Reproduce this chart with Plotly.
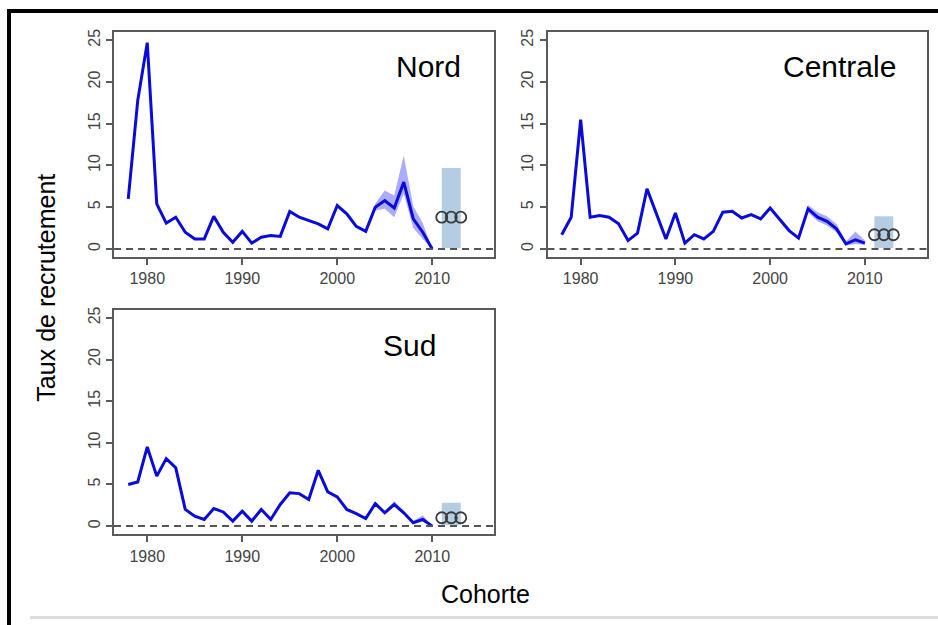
import plotly.graph_objects as go

W, H = 938, 625

years = list(range(1978, 2011))
nord = [6.0, 17.8, 24.7, 5.4, 3.1, 3.8, 2.0, 1.2, 1.2, 3.9, 2.0, 0.8, 2.1, 0.7, 1.4, 1.6, 1.5,
        4.5, 3.8, 3.4, 3.0, 2.4, 5.2, 4.2, 2.7, 2.1, 5.0, 5.8, 4.9, 8.0, 3.6, 2.0, 0.0]
centrale = [1.7, 3.8, 15.5, 3.8, 4.0, 3.8, 3.0, 1.0, 1.9, 7.2, 4.2, 1.2, 4.3, 0.7, 1.7, 1.2, 2.1,
            4.4, 4.5, 3.7, 4.1, 3.6, 4.9, 3.6, 2.2, 1.3, 4.8, 3.8, 3.3, 2.4, 0.6, 1.1, 0.7]
sud = [5.0, 5.3, 9.5, 6.0, 8.1, 7.0, 2.0, 1.2, 0.8, 2.1, 1.7, 0.6, 1.8, 0.6, 2.0, 0.8, 2.6,
       4.0, 3.9, 3.2, 6.7, 4.1, 3.5, 2.0, 1.5, 0.9, 2.7, 1.6, 2.6, 1.6, 0.4, 0.8, 0.0]

band_years = list(range(2003, 2011))
nord_lo = [2.0, 4.6, 4.8, 3.8, 6.6, 2.5, 1.2, 0.0]
nord_hi = [2.2, 5.4, 7.0, 6.4, 11.2, 5.1, 3.1, 0.1]
centrale_lo = [1.2, 4.4, 3.3, 2.8, 2.0, 0.4, 0.6, 0.5]
centrale_hi = [1.4, 5.3, 4.4, 3.9, 3.0, 0.9, 2.1, 1.0]
sud_lo = [0.8, 2.5, 1.4, 2.3, 1.4, 0.3, 0.5, 0.0]
sud_hi = [1.0, 2.9, 1.8, 3.0, 1.8, 0.6, 1.3, 0.1]

fc_years = [2011, 2012, 2013]
nord_fc = [3.8, 3.8, 3.8]
nord_fc_lo = [0.1, 0.1, 0.1]
nord_fc_hi = [9.7, 9.7, 9.7]
centrale_fc = [1.7, 1.7, 1.7]
centrale_fc_lo = [0.1, 0.1, 0.1]
centrale_fc_hi = [3.9, 3.9, 3.9]
sud_fc = [1.0, 1.0, 1.0]
sud_fc_lo = [0.1, 0.1, 0.1]
sud_fc_hi = [2.8, 2.8, 2.8]

panel_names = ["Nord", "Centrale", "Sud"]
x_ticks = [1980, 1990, 2000, 2010]
y_ticks = [0, 5, 10, 15, 20, 25]

FONT = "Liberation Sans, Arial, Helvetica, sans-serif"
LINE_BLUE = "#0b0bd9"
BAND = "rgba(70,70,250,0.45)"
FC_BAND = "#b5cde3"
AXC = "#5a5a5a"
TICKC = "#444444"


def px_x(p):
    return p / W


def px_y(p):
    return 1 - p / H


panels = [
    ("Nord", nord, nord_lo, nord_hi, nord_fc, nord_fc_lo, nord_fc_hi, (114, 494), (29, 255.5), 463, 64),
    ("Centrale", centrale, centrale_lo, centrale_hi, centrale_fc, centrale_fc_lo, centrale_fc_hi,
     (547.5, 926.5), (29, 255.5), 898, 64),
    ("Sud", sud, sud_lo, sud_hi, sud_fc, sud_fc_lo, sud_fc_hi, (114, 494), (308, 534), 438, 344),
]

fig = go.Figure()
layout = dict(
    width=W, height=H, margin=dict(l=0, r=0, t=0, b=0),
    paper_bgcolor="white", plot_bgcolor="white", showlegend=False,
    font=dict(family=FONT),
)
shapes = []
annotations = []

for i, (name, ser, lo, hi, fc, fclo, fchi, xd, yd, tx, ty) in enumerate(panels):
    k = "" if i == 0 else str(i + 1)
    xa, ya = "x" + k, "y" + k
    fig.add_trace(go.Scatter(x=band_years + band_years[::-1], y=hi + lo[::-1], fill="toself",
                             fillcolor=BAND, line=dict(width=0), mode="lines",
                             xaxis=xa, yaxis=ya, hoverinfo="skip"))
    fig.add_trace(go.Scatter(x=fc_years + fc_years[::-1], y=fchi + fclo[::-1], fill="toself",
                             fillcolor=FC_BAND, line=dict(width=0), mode="lines",
                             xaxis=xa, yaxis=ya, hoverinfo="skip"))
    fig.add_trace(go.Scatter(x=years, y=ser, mode="lines",
                             line=dict(color=LINE_BLUE, width=3),
                             xaxis=xa, yaxis=ya))
    fig.add_trace(go.Scatter(x=fc_years, y=fc, mode="markers",
                             marker=dict(symbol="circle-open", size=11, color="#3a3a3a",
                                         line=dict(width=1.8, color="#3a3a3a")),
                             xaxis=xa, yaxis=ya))

    layout["xaxis" + k] = dict(
        domain=[px_x(xd[0]), px_x(xd[1])], anchor=ya, range=[1976.5, 2016.5],
        tickvals=x_ticks, ticks="outside", ticklen=6, tickwidth=1.5, tickcolor=AXC,
        showline=True, linecolor=AXC, linewidth=2, mirror=True, showgrid=False, zeroline=False,
        tickfont=dict(size=16, color=TICKC, family=FONT),
    )
    layout["yaxis" + k] = dict(
        domain=[px_y(yd[1]), px_y(yd[0])], anchor=xa, range=[-1, 26],
        tickvals=y_ticks, ticks="outside", ticklen=6, tickwidth=1.5, tickcolor=AXC,
        showline=True, linecolor=AXC, linewidth=2, mirror=True, showgrid=False, zeroline=False,
        tickangle=-90, tickfont=dict(size=16, color=TICKC, family=FONT),
    )
    shapes.append(dict(type="line", xref=xa + " domain", yref=ya, x0=0, x1=1, y0=0, y1=0,
                       line=dict(color="#555555", width=2, dash="7px,5px"), layer="above"))
    annotations.append(dict(text=name, xref="paper", yref="paper", x=px_x(tx), y=px_y(ty),
                            xanchor="right", yanchor="middle", showarrow=False,
                            font=dict(size=30, color="black", family=FONT)))

annotations.append(dict(text="Taux de recrutement", xref="paper", yref="paper",
                        x=px_x(46), y=px_y(286), textangle=-90, showarrow=False,
                        xanchor="center", yanchor="middle",
                        font=dict(size=25, color="black", family=FONT)))
annotations.append(dict(text="Cohorte", xref="paper", yref="paper",
                        x=px_x(485), y=px_y(594), showarrow=False,
                        xanchor="center", yanchor="middle",
                        font=dict(size=25, color="black", family=FONT)))

shapes.append(dict(type="rect", xref="paper", yref="paper", x0=px_x(7), x1=1.0,
                   y0=px_y(10), y1=px_y(6), fillcolor="black", line=dict(width=0), layer="above"))
shapes.append(dict(type="rect", xref="paper", yref="paper", x0=px_x(7), x1=px_x(11),
                   y0=0, y1=px_y(6), fillcolor="black", line=dict(width=0), layer="above"))
shapes.append(dict(type="rect", xref="paper", yref="paper", x0=px_x(30), x1=1.0,
                   y0=px_y(619), y1=px_y(616), fillcolor="#dcdcdc", line=dict(width=0), layer="above"))

layout["shapes"] = shapes
layout["annotations"] = annotations
fig.update_layout(**layout)
fig.write_html("out.html")
